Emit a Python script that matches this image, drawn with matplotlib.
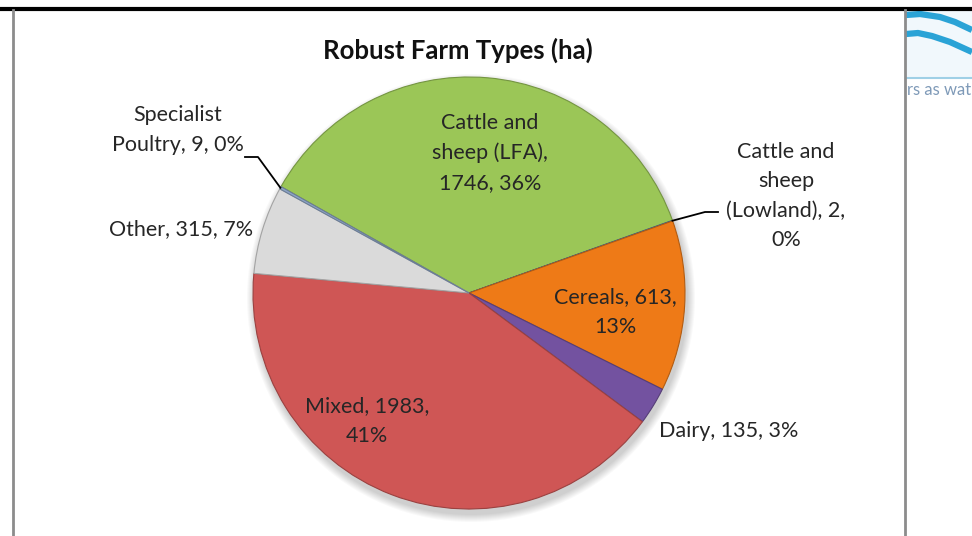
import matplotlib

matplotlib.use("Agg")
import matplotlib.pyplot as plt
import numpy as np
from matplotlib.patches import Circle

plt.rcParams["font.family"] = ["Lato", "DejaVu Sans"]

# data (hectares), in the clockwise order Excel draws them
categories = [
    "Cattle and sheep (LFA)",
    "Cattle and sheep (Lowland)",
    "Cereals",
    "Dairy",
    "Mixed",
    "Other",
    "Specialist Poultry",
]
hectares = [1746, 2, 613, 135, 1983, 315, 9]
label_texts = [
    "Cattle and\nsheep (LFA),\n1746, 36%",
    "Cattle and\nsheep\n(Lowland), 2,\n0%",
    "Cereals, 613,\n13%",
    "Dairy, 135, 3%",
    "Mixed, 1983,\n41%",
    "Other, 315, 7%",
    "Specialist\nPoultry, 9, 0%",
]
colors = ["#9bc657", "#4f81bd", "#ee7a17", "#7352a0", "#cf5655", "#dadada", "#8ea6c8"]

W, H = 972, 536
CX, CY, R = 469, H - 293, 216

fig = plt.figure(figsize=(W / 100, H / 100), dpi=100)
ax = fig.add_axes([0, 0, 1, 1])

# soft shadow under the pie
for k in range(8):
    ax.add_patch(Circle((CX + 2, CY - 5), R + 8 - k, color="#000000", alpha=0.025, lw=0, zorder=1))

wedges, _ = ax.pie(
    hectares,
    colors=colors,
    startangle=150.5,
    counterclock=False,
    center=(CX, CY),
    radius=R,
    frame=True,
    wedgeprops=dict(linewidth=0.8),
)
for w in wedges:
    fc = np.array(w.get_facecolor()[:3])
    w.set_edgecolor(tuple(fc * 0.75))
    w.set_zorder(2)
ax.set_xlim(0, W)
ax.set_ylim(0, H)
ax.set_aspect("equal")
ax.axis("off")

fs = 15.5
# label placement (pixel positions from the top-left)
label_pos = {
    0: (490, 153),
    1: (786, 196),
    2: (615, 312),
    3: (729, 431),
    4: (367, 421),
    5: (181, 229),
    6: (178, 130),
}
for i, (x, y) in label_pos.items():
    ax.text(x, H - y, label_texts[i], ha="center", va="center", fontsize=fs, color="#262626",
            linespacing=1.6, zorder=5)

# leader lines for the tiny slices
angles = [(w.theta1 + w.theta2) / 2 for w in wedges]
for i, pts in [(6, [(245, 157), (258, 157)]), (1, [(718, 212), (705, 212)])]:
    a = np.deg2rad(angles[i])
    ex, ey = CX + R * np.cos(a), CY + R * np.sin(a)
    xs = [p[0] for p in pts] + [ex]
    ys = [H - p[1] for p in pts] + [ey]
    ax.plot(xs, ys, color="black", lw=1.3, zorder=4)

ax.text(458, H - 50, "Robust Farm Types (ha)", ha="center", va="center", fontsize=18.5,
        fontweight="bold", color="#111111", zorder=5)

# frame of the embedded chart
ax.plot([0, W], [H - 8.5, H - 8.5], color="black", lw=3, zorder=6)
ax.plot([12.5, 12.5], [0, H - 10], color="#8c8c8c", lw=2, zorder=6)
ax.plot([905, 905], [0, H - 10], color="#8c8c8c", lw=2, zorder=6)

# corner of a logo on the right
ax.fill_between([906, W], [H - 10, H - 10], [H - 76, H - 76], color="#f1f8fc", zorder=1)
ax.plot([906, 920, 940, 955, 972], [H - 15, H - 14, H - 17, H - 22, H - 30], color="#2aa3d6",
        lw=4.5, solid_capstyle="butt", zorder=3)
ax.plot([906, 918, 932, 950, 972], [H - 34, H - 33, H - 36, H - 42, H - 52], color="#2aa3d6",
        lw=4.5, solid_capstyle="butt", zorder=3)
ax.plot([906, W], [H - 78, H - 78], color="#9fd0e6", lw=1.5, zorder=3)
ax.text(907, H - 90, "rs as wat", ha="left", va="center", fontsize=12,
        color="#7f9ab8", zorder=3)

fig.savefig("out.png", dpi=100)
